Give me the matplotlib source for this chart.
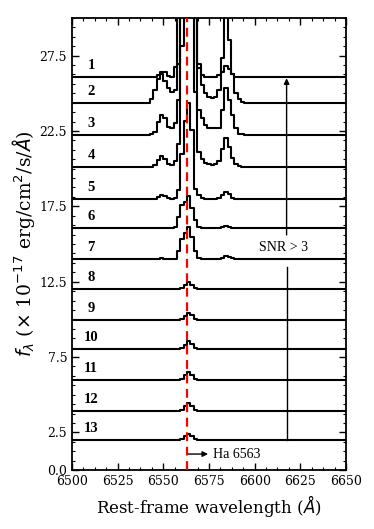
import numpy as np
import matplotlib
matplotlib.use("Agg")
import matplotlib.pyplot as plt
from matplotlib.ticker import FixedLocator, MultipleLocator

# ---------------- data ----------------
spec_labels = ["1", "2", "3", "4", "5", "6", "7", "8", "9", "10", "11", "12", "13"]
continuum = [26.1, 24.35, 22.23, 20.11, 17.98, 16.06, 14.0, 12.01, 9.95, 8.03, 5.97, 3.92, 1.99]

# excess flux above continuum in the line window (28 bins of 1.85 A, first bin centred 6543.6 A)
spec1 = [0, 0, 0.1, 0.33, 0.3, 0.05, 0, 0.66, 8, 25, 35, 40, 30, 8, 0.6, 0.1, 0, 0, 0, 0, 0.1, 0.3, 0.7, 0.5, 0.15, 0, 0, 0]
spec2 = [0.3, 0.9, 1.6, 1.9, 1.5, 1.0, 0.75, 0.9, 2.6, 12, 30, 40, 30, 10, 2.6, 1.2, 0.65, 0.4, 0.35, 0.4, 0.9, 3.0, 5.8, 4.2, 1.9, 0.7, 0.25, 0.1]
spec3 = [0.05, 0.22, 0.9, 1.33, 1.1, 0.55, 0.45, 0.8, 2.3, 10, 25, 35, 25, 8, 1.66, 1.1, 0.66, 0.45, 0.45, 0.45, 0.5, 1.66, 3.1, 2.3, 1.33, 0.45, 0.1, 0.05]
spec4 = [0, 0.1, 0.45, 0.7, 0.5, 0.2, 0.15, 0.4, 1.5, 8, 20, 25, 18, 5, 1.0, 0.55, 0.25, 0.2, 0.15, 0.2, 0.4, 1.2, 1.9, 1.3, 0.6, 0.2, 0.05, 0]
spec5 = [0, 0, 0.15, 0.3, 0.2, 0.05, 0, 0.1, 0.6, 3.0, 5.2, 6.4, 4.6, 0.7, 0.25, 0.05, 0, 0, 0, 0, 0.05, 0.25, 0.45, 0.35, 0.1, 0, 0, 0]
spec6 = [0, 0, 0, 0, 0, 0, 0, 0.05, 0.7, 1.5, 1.7, 2.1, 1.3, 0.5, 0.1, 0, 0, 0, 0, 0, 0, 0.1, 0.15, 0.1, 0, 0, 0, 0]
spec7 = [0, 0, 0, 0.05, 0, 0, 0, 0, 0.55, 1.3, 1.7, 2.15, 1.45, 0.55, 0.1, 0, 0, 0, 0, 0, 0, 0.1, 0.2, 0.15, 0.05, 0, 0, 0]
spec8 = [0, 0, 0, 0, 0, 0, 0, 0, 0, 0.05, 0.3, 0.46, 0.3, 0.08, 0, 0, 0, 0, 0, 0, 0, 0, 0, 0, 0, 0, 0, 0]
spec9 = [0, 0, 0, 0, 0, 0, 0, 0, 0, 0.05, 0.3, 0.5, 0.35, 0.08, 0, 0, 0, 0, 0, 0, 0, 0, 0, 0, 0, 0, 0, 0]
spec10 = [0, 0, 0, 0, 0, 0, 0, 0, 0, 0.05, 0.3, 0.5, 0.35, 0.08, 0, 0, 0, 0, 0, 0, 0, 0, 0, 0, 0, 0, 0, 0]
spec11 = [0, 0, 0, 0, 0, 0, 0, 0, 0, 0.05, 0.35, 0.55, 0.35, 0.08, 0, 0, 0, 0, 0, 0, 0, 0, 0, 0, 0, 0, 0, 0]
spec12 = [0, 0, 0, 0, 0, 0, 0, 0, 0, 0.05, 0.3, 0.5, 0.33, 0.08, 0, 0, 0, 0, 0, 0, 0, 0, 0, 0, 0, 0, 0, 0]
spec13 = [0, 0, 0, 0, 0, 0, 0, 0, 0, 0.05, 0.25, 0.4, 0.28, 0.06, 0, 0, 0, 0, 0, 0, 0, 0, 0, 0, 0, 0, 0, 0]
spectra = [spec1, spec2, spec3, spec4, spec5, spec6, spec7, spec8, spec9, spec10, spec11, spec12, spec13]

halpha = 6563
xticks = [6500, 6525, 6550, 6575, 6600, 6625, 6650]
yticks = [0.0, 2.5, 7.5, 12.5, 17.5, 22.5, 27.5]

# ---------------- figure ----------------
plt.rcParams['font.family'] = 'DejaVu Serif'
plt.rcParams['mathtext.fontset'] = 'dejavusans'

fig = plt.figure(figsize=(3.74, 5.29), dpi=100)
ax = fig.add_axes([0.1925, 0.1115, 0.7325, 0.8545])

# wavelength grid (bin centres, 1.85 A sampling)
kk = np.arange(-25, 58)
wl = 6544.5 + 1.85 * (kk + 0.5)
i0 = int(np.where(kk == -1)[0][0])

for lab, base, exc in zip(spec_labels, continuum, spectra):
    flux = np.full(wl.size, base, dtype=float)
    flux[i0:i0 + len(exc)] += np.array(exc)
    ax.plot(wl, flux, drawstyle='steps-mid', color='black', lw=1.5)
    ax.text(6510.5, base + 0.75, lab, ha='center', va='center',
            fontsize=10.5, fontweight='bold', family='Liberation Serif')

ax.axvline(halpha, color='red', ls=(0, (4, 2.5)), lw=1.6, zorder=5)

# SNR annotation
ax.annotate('', xy=(6617.5, 26.0), xytext=(6617.5, 15.6),
            arrowprops=dict(arrowstyle='-|>', color='black', lw=1.0,
                            mutation_scale=8, shrinkA=0, shrinkB=0))
ax.plot([6617.5, 6617.5], [1.99, 13.5], color='black', lw=1.0)
ax.text(6616, 14.75, 'SNR > 3', ha='center', va='center', fontsize=10,
        family='Liberation Serif')

# H-alpha arrow
ax.annotate('', xy=(6574.5, 1.06), xytext=(6563.3, 1.06),
            arrowprops=dict(arrowstyle='-|>', color='black', lw=1.0,
                            mutation_scale=8, shrinkA=0, shrinkB=0))
ax.text(6577.2, 1.06, 'Ha 6563', ha='left', va='center', fontsize=10,
        family='Liberation Serif')

ax.set_xlim(6500, 6650)
ax.set_ylim(0, 30)
ax.xaxis.set_major_locator(FixedLocator(xticks))
ax.xaxis.set_minor_locator(MultipleLocator(6.25))
ax.yaxis.set_major_locator(FixedLocator(yticks))
ax.yaxis.set_minor_locator(MultipleLocator(0.625))
ax.set_yticklabels([f'{v:.1f}' for v in yticks])
ax.tick_params(which='both', direction='in', top=True, right=True, labelsize=9)
ax.tick_params(which='major', length=5, width=1.0)
ax.tick_params(which='minor', length=2.5, width=0.8)
for s in ax.spines.values():
    s.set_linewidth(1.3)

ax.set_xlabel(r'Rest-frame wavelength ($\AA$)', fontsize=12)
ax.set_ylabel(r'$f_\lambda$ ($\times$ 10$^{-17}$ erg/cm$^2$/s/$\AA$)', fontsize=13.5, labelpad=2)

fig.savefig('out.png', dpi=100)
